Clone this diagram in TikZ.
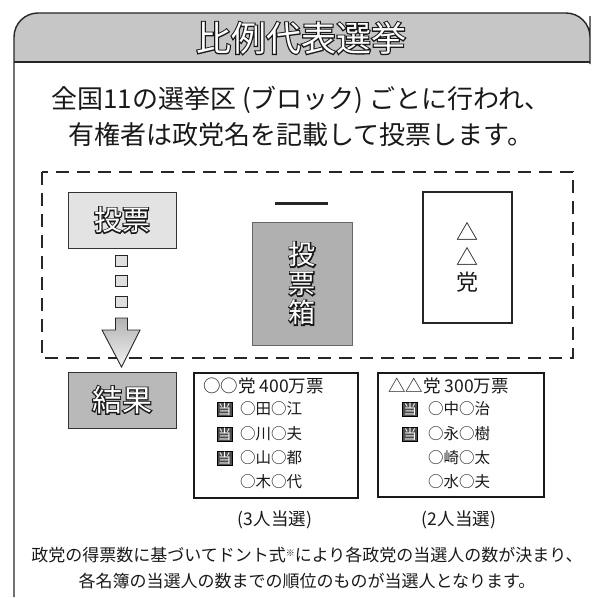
\documentclass[tikz,border=0pt]{standalone}
\usepackage{fontspec}
\setmainfont{Noto Sans CJK JP}
\newcommand\olt[1]{\rlap{\special{pdf:literal direct 1 Tr 2.2 w 0.1 0.1 0.1 RG}#1}\special{pdf:literal direct 0 Tr}#1}
\begin{document}
\begin{tikzpicture}[x=1pt,y=-1pt,
  frameline/.style={line width=1.4pt, draw=black!85},
  dashbox/.style={line width=1.7pt, draw=black!85, dash pattern=on 13pt off 8pt},
  tile/.style={draw=black!80, line width=1pt, inner sep=0pt},
  sqtile/.style={draw=black!85, line width=0.9pt, fill=gray!25, minimum width=12pt, minimum height=11pt, inner sep=0pt},
  resbox/.style={draw=black!90, line width=1.2pt, inner sep=0pt},
  body/.style={font=\fontsize{26}{30}\selectfont, text=black!90},
  small/.style={font=\fontsize{17.5}{19}\selectfont, text=black!90, inner sep=0pt},
  names/.style={font=\fontsize{15.5}{18}\selectfont, text=black!90, anchor=west, inner sep=0pt},
  icon/.style={fill=black!70, draw=black, line width=0.6pt, text=white, font=\fontsize{13.5}{13.5}\selectfont, inner sep=0.8pt},
  note/.style={font=\fontsize{17}{20}\selectfont, text=black!90},
  outl/.style={text=white, align=center},
]
\useasboundingbox (0,0) rectangle (601,597);

% header
\fill[gray!45] (14,62) [rounded corners=24pt] -- (14,13) -- (590,13) -- (590,40) [sharp corners] -- (590,62) -- cycle;
\draw[frameline] (14,597) [rounded corners=24pt] -- (14,13) -- (590,13) -- (590,40) [sharp corners] -- (590,62);
\draw[frameline] (14,62) -- (590,62);
\node[outl, font=\fontsize{35}{38}\selectfont] (title) at (301,38) {\olt{比例代表選挙}};

% intro text
\node[body] (l1) at (301,100) {全国11の選挙区 (ブロック) ごとに行われ、};
\node[body] (l2) at (301,135) {有権者は政党名を記載して投票します。};

% dashed area
\draw[dashbox] (42,172) rectangle (573,358);

% vote tile
\node[tile, fill=gray!22, minimum width=108pt, minimum height=56pt] (vote) at (122,220) {};
\node[outl, font=\fontsize{28}{30}\selectfont] (votet) at (vote.center) {\olt{投票}};

% squares and arrow
\node[sqtile] (sq1) at (121.5,260.5) {};
\node[sqtile] (sq2) at (121.5,280.5) {};
\node[sqtile] (sq3) at (121.5,301.5) {};
\shade[top color=gray!60, bottom color=gray!10, draw=black!85, line width=0.9pt]
  (115.5,318) -- (127.5,318) -- (127.5,330) -- (140,330) -- (121.5,367) -- (102,330) -- (115.5,330) -- cycle;

% result tile
\node[tile, fill=gray!55, minimum width=108pt, minimum height=56pt] (result) at (122,400) {};
\node[outl, font=\fontsize{30}{32}\selectfont] (resultt) at (result.center) {\olt{結果}};

% ballot box
\node[tile, fill=gray!62, draw=black!60, minimum width=100pt, minimum height=123pt] (ballot) at (302,283.5) {};
\draw[line width=3pt, black!85] ([xshift=-27pt,yshift=80pt]ballot.center) coordinate (lidl) -- ([xshift=26pt,yshift=80pt]ballot.center) coordinate (lidr);
\node[outl, font=\fontsize{27}{29}\selectfont] (ballott) at (ballot.center) {\olt{投}\\\olt{票}\\\olt{箱}};

% party paper
\node[draw=black!85, line width=1.4pt, minimum width=89pt, minimum height=131pt, inner sep=0pt] (party) at (467.5,257.5) {};
\node[font=\fontsize{22}{25}\selectfont, align=center, text=black!90] (partyt) at (party.center) {△\\△\\党};

% result boxes
\node[resbox, minimum width=164pt, minimum height=125pt] (res1) at (276,435.5) {};
\node[small, anchor=west] (h1) at (203,386) {○○党 400万票};
\node[icon] (i11) at (224.5,409) {当};
\node[icon] (i12) at (224.5,434) {当};
\node[icon] (i13) at (224.5,458) {当};
\node[names] (n11) at (240,409) {○田○江};
\node[names] (n12) at (240,434) {○川○夫};
\node[names] (n13) at (240,458) {○山○都};
\node[names] (n14) at (240,482) {○木○代};
\node[small] (c1) at (275,520) {(3人当選)};

\node[resbox, minimum width=166pt, minimum height=124pt] (res2) at (461,435) {};
\node[small, anchor=west] (h2) at (388,386) {△△党 300万票};
\node[icon] (i21) at (410,409) {当};
\node[icon] (i22) at (410,434) {当};
\node[names] (n21) at (428,409) {○中○治};
\node[names] (n22) at (428,434) {○永○樹};
\node[names] (n23) at (428,458) {○崎○太};
\node[names] (n24) at (428,482) {○水○夫};
\node[small] (c2) at (459,520) {(2人当選)};

% bottom note
\node[note] (b1) at (307,555) {政党の得票数に基づいてドント式{\fontsize{9}{9}\selectfont\raisebox{5pt}{※}}により各政党の当選人の数が決まり、};
\node[note] (b2) at (307,581) {各名簿の当選人の数までの順位のものが当選人となります。};
\end{tikzpicture}
\end{document}
